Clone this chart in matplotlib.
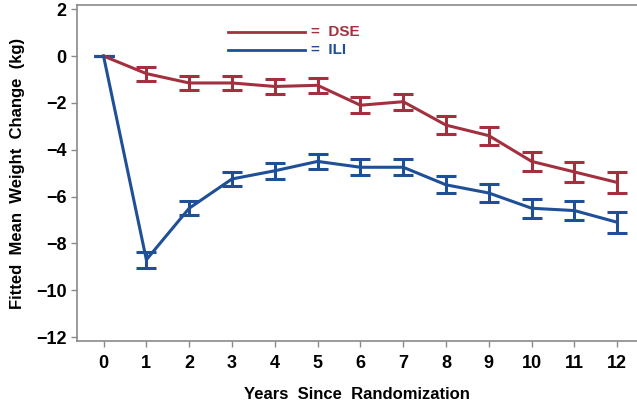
import matplotlib
matplotlib.use("Agg")
import matplotlib.pyplot as plt
from matplotlib import font_manager

years = list(range(13))
dse_mean = [0.0, -0.75, -1.15, -1.15, -1.3, -1.25, -2.1, -1.95, -2.95, -3.4, -4.5, -4.95, -5.4]
dse_err = [0.0, 0.3, 0.3, 0.3, 0.33, 0.33, 0.35, 0.35, 0.37, 0.38, 0.4, 0.42, 0.45]
ili_mean = [0.0, -8.7, -6.5, -5.25, -4.9, -4.5, -4.75, -4.75, -5.5, -5.85, -6.5, -6.6, -7.1]
ili_err = [0.0, 0.35, 0.3, 0.3, 0.33, 0.33, 0.35, 0.35, 0.37, 0.38, 0.4, 0.42, 0.45]
yticks = [2, 0, -2, -4, -6, -8, -10, -12]

names = {f.name for f in font_manager.fontManager.ttflist}
fam = ['Liberation Sans Narrow'] if 'Liberation Sans Narrow' in names else ['Liberation Sans']
plt.rcParams['font.family'] = fam + ['DejaVu Sans']

red = '#A3303F'
blue = '#1F4F97'
spine_c = '#8a8a8a'

fig = plt.figure(figsize=(6.37, 4.08), dpi=100)
ax = fig.add_axes([77/637, 1-341/408, 1-77/637, (341-5)/408])

for m, e, c in [(dse_mean, dse_err, red), (ili_mean, ili_err, blue)]:
    ax.errorbar(years, m, yerr=e, color=c, lw=2.2, capsize=7, capthick=2.2, elinewidth=2.2)

ax.set_xlim(-0.62, 12.46)
ax.set_ylim(-12.17, 2.18)
ax.set_xticks(years)
ax.set_yticks(yticks)
ax.set_yticklabels(['2', '0', '\u22122', '\u22124', '\u22126', '\u22128', '\u221210', '\u221212'])
for s in ['left', 'bottom', 'top']:
    ax.spines[s].set_color(spine_c)
    ax.spines[s].set_linewidth(1.2)
ax.spines['right'].set_visible(False)
ax.tick_params(axis='both', colors=spine_c, labelcolor='black', labelsize=13, length=4, width=1)
ax.tick_params(axis='x', pad=6)
for lbl in ax.get_xticklabels() + ax.get_yticklabels():
    lbl.set_fontweight('bold')

ax.set_xlabel('Years  Since  Randomization', fontsize=12, fontweight='bold', labelpad=11)
ax.set_ylabel('Fitted  Mean  Weight  Change  (kg)', fontsize=12, fontweight='bold', labelpad=8)

# legend (drawn as in source)
ax.plot([2.9, 4.7], [1.03, 1.03], color=red, lw=2)
ax.plot([2.9, 4.7], [0.26, 0.26], color=blue, lw=2)
ax.text(4.85, 1.03, '=  DSE', color=red, fontsize=11, fontweight='bold', va='center')
ax.text(4.85, 0.26, '=  ILI', color=blue, fontsize=11, fontweight='bold', va='center')

fig.savefig('out.png', dpi=100)
